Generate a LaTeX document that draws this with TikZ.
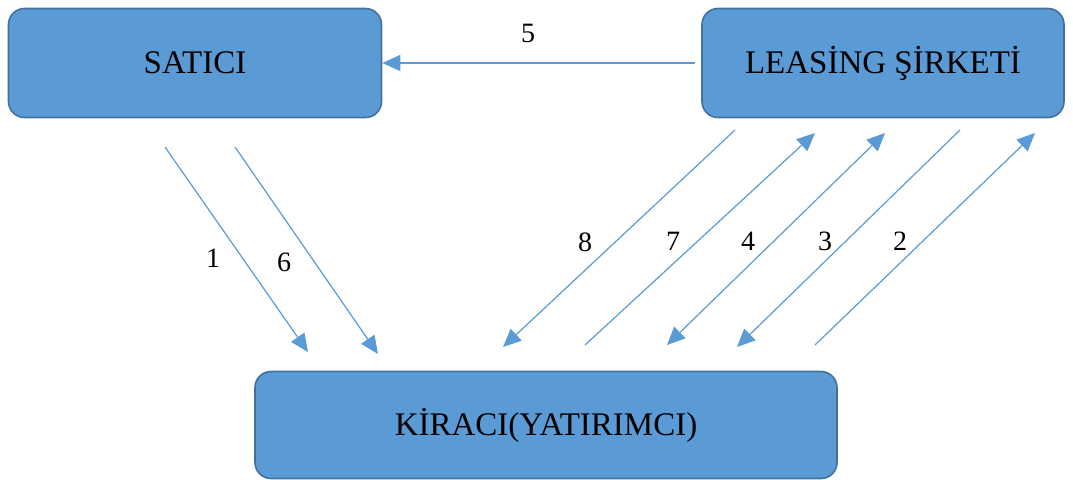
\documentclass[tikz,border=0pt]{standalone}
\usepackage{fontspec}
\setmainfont{Liberation Serif}
\usetikzlibrary{arrows.meta}

\definecolor{boxfill}{HTML}{5B9BD5}
\definecolor{boxline}{HTML}{41719C}
\definecolor{arrowline}{HTML}{5B9BD5}

\begin{document}
\begin{tikzpicture}[
  x=1pt, y=-1pt,
  party/.style={rectangle, draw=boxline, line width=1.6pt, rounded corners=16pt, fill=boxfill, align=center, font=\fontsize{33}{38}\selectfont, inner sep=0pt},
  num/.style={font=\fontsize{28}{32}\selectfont},
  flow/.style={-{Triangle[length=18pt, width=16pt]}, draw=arrowline, fill=arrowline, line width=1.2pt},
  twoway/.style={{Triangle[length=18pt, width=16pt]}-{Triangle[length=18pt, width=16pt]}, draw=arrowline, fill=arrowline, line width=1.2pt}
]
\useasboundingbox (0,0) rectangle (1073,479);

% Top level - the two firms
\node[party, minimum width=373pt, minimum height=109pt] (satici) at (195,63) {SATICI};
\node[party, minimum width=362pt, minimum height=109pt] (leasing) at (883,63) {LEASİNG ŞİRKETİ};

% Bottom level - lessee
\node[party, minimum width=582pt, minimum height=107pt] (kiraci) at (546,425) {KİRACI(YATIRIMCI)};

% Free ends of the slanted arrows
\coordinate (s1) at (165,147);  \coordinate (k1) at (308,352);
\coordinate (s6) at (235,147);  \coordinate (k6) at (378,354);
\coordinate (l8) at (735,130);  \coordinate (k8) at (503,347);
\coordinate (k7) at (585,345);  \coordinate (l7) at (815,133);
\coordinate (k4) at (667,345);  \coordinate (l4) at (885,133);
\coordinate (l3) at (960,130);  \coordinate (k3) at (737,347);
\coordinate (k2) at (815,345);  \coordinate (l2) at (1035,133);
\coordinate (l5) at (695,63);

% Leasing company to seller
\draw[flow] (l5) -- (satici.east);
\node[num] (n5) at (528,33) {5};

% Seller to lessee
\draw[flow] (s1) -- (k1);
\draw[flow] (s6) -- (k6);
\node[num] (n1) at (213,258) {1};
\node[num] (n6) at (284,262) {6};

% Between leasing company and lessee
\draw[flow] (l8) -- (k8);
\draw[flow] (k7) -- (l7);
\draw[twoway] (k4) -- (l4);
\draw[flow] (l3) -- (k3);
\draw[flow] (k2) -- (l2);
\node[num] (n8) at (585,242) {8};
\node[num] (n7) at (673,241) {7};
\node[num] (n4) at (748,241) {4};
\node[num] (n3) at (825,241) {3};
\node[num] (n2) at (900,241) {2};

\end{tikzpicture}
\end{document}
